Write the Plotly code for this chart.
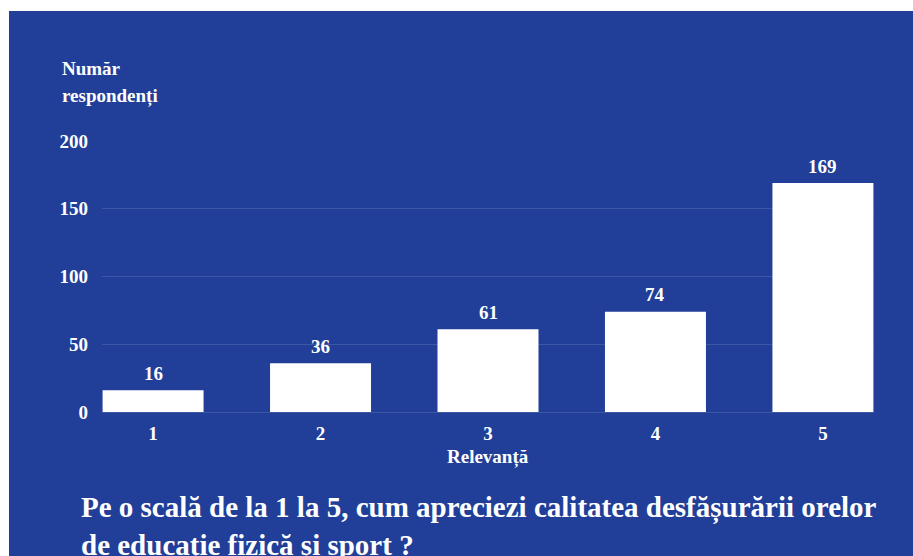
import plotly.graph_objects as go

# Survey answers: rating on a 1-5 scale and number of respondents
categories = [1, 2, 3, 4, 5]
respondents = [16, 36, 61, 74, 169]
y_ticks = [0, 50, 100, 150, 200]

BLUE = "rgb(33,63,152)"
GRID = "rgba(255,255,255,0.13)"
FONT = "Liberation Serif"

W, H = 913, 556
L, R, T, B = 102, 39, 141, 144
plot_w = W - L - R
plot_h = H - T - B

fig = go.Figure()
fig.add_trace(go.Bar(
    x=categories,
    y=respondents,
    width=0.603,
    marker=dict(color="white", line=dict(width=0)),
    hoverinfo="x+y",
))

# value labels above each bar
annotations = []
for c, v in zip(categories, respondents):
    annotations.append(dict(
        x=c, y=v, xref="x", yref="y", text=f"<b>{v}</b>", showarrow=False,
        yanchor="middle", yshift=17,
        font=dict(family=FONT, size=19, color="white"),
    ))

# axis titles
annotations.append(dict(
    x=0, y=1, xref="paper", yref="paper", xanchor="left", yanchor="middle",
    xshift=-42, yshift=73, text="<b>Număr</b>", showarrow=False,
    font=dict(family=FONT, size=19, color="white"),
))
annotations.append(dict(
    x=0, y=1, xref="paper", yref="paper", xanchor="left", yanchor="middle",
    xshift=-42, yshift=45, text="<b>respondenți</b>", showarrow=False,
    font=dict(family=FONT, size=19, color="white"),
))
annotations.append(dict(
    x=0.5, y=0, xref="paper", yref="paper", xanchor="center", yanchor="middle",
    yshift=-45, text="<b>Relevanță</b>", showarrow=False,
    font=dict(family=FONT, size=19, color="white"),
))

# question text below the chart
annotations.append(dict(
    x=0, y=0, xref="paper", yref="paper", xanchor="left", yanchor="middle",
    xshift=-23, yshift=-96,
    text="<b>Pe o scală de la 1 la 5, cum apreciezi calitatea desfășurării orelor</b>",
    showarrow=False, font=dict(family=FONT, size=29, color="white"),
))
annotations.append(dict(
    x=0, y=0, xref="paper", yref="paper", xanchor="left", yanchor="middle",
    xshift=-23, yshift=-134,
    text="<b>de educație fizică și sport ?</b>",
    showarrow=False, font=dict(family=FONT, size=29, color="white"),
))

# blue panel behind everything, leaving a thin white strip at top and left
bg = dict(
    type="rect", xref="paper", yref="paper", layer="below",
    x0=(9 - L) / plot_w, x1=(W + 20 - L) / plot_w,
    y0=-(B + 20) / plot_h, y1=(H - B - 11) / plot_h,
    fillcolor=BLUE, line=dict(width=0),
)

fig.update_layout(
    width=W, height=H,
    margin=dict(l=L, r=R, t=T, b=B, autoexpand=False),
    paper_bgcolor="white",
    plot_bgcolor="rgba(0,0,0,0)",
    showlegend=False,
    shapes=[bg],
    annotations=annotations,
    xaxis=dict(
        range=[0.695, 5.305], tickvals=categories,
        ticktext=[str(c) for c in categories],
        showgrid=False, zeroline=False, showline=False,
        ticks="", ticklabelstandoff=8,
        tickfont=dict(family=FONT, size=19, color="white", weight="bold"),
        fixedrange=True,
    ),
    yaxis=dict(
        range=[0, 200], tickvals=y_ticks,
        showgrid=True, gridcolor=GRID, gridwidth=1,
        zeroline=True, zerolinecolor=GRID, zerolinewidth=1,
        showline=False, ticks="", ticklabelstandoff=13,
        tickfont=dict(family=FONT, size=19, color="white", weight="bold"),
        fixedrange=True,
    ),
)

fig.write_html("out.html")
